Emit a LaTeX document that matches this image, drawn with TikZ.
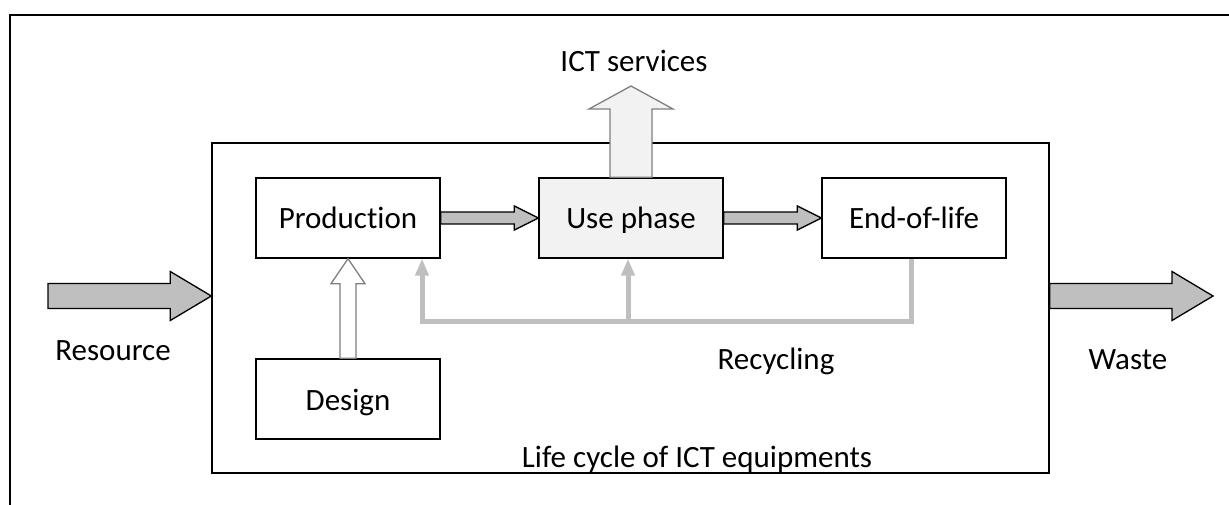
\documentclass[tikz,border=0pt]{standalone}
\usepackage{fontspec}
\setmainfont{Carlito}[Ligatures=NoCommon]
\usetikzlibrary{calc,arrows.meta}
\definecolor{arrowgray}{HTML}{BFBFBF}
\definecolor{lightfill}{HTML}{F2F2F2}
\definecolor{edgegray}{HTML}{7F7F7F}
\newcommand\hblock[6]{%
  \path[#1] let \p1=(#2), \p2=(#3) in
    (\x1,\y1+#4pt) -- (\x2-#6pt,\y1+#4pt) -- (\x2-#6pt,\y1+#5pt) -- (\x2,\y1)
    -- (\x2-#6pt,\y1-#5pt) -- (\x2-#6pt,\y1-#4pt) -- (\x1,\y1-#4pt) -- cycle;}
\newcommand\vblock[6]{%
  \path[#1] let \p1=(#2), \p2=(#3) in
    (\x1-#4pt,\y1) -- (\x1-#4pt,\y2-#6pt) -- (\x1-#5pt,\y2-#6pt) -- (\x1,\y2)
    -- (\x1+#5pt,\y2-#6pt) -- (\x1+#4pt,\y2-#6pt) -- (\x1+#4pt,\y1) -- cycle;}
\begin{document}
\begin{tikzpicture}[x=1pt,y=-1pt,
  every node/.style={font=\fontsize{31}{36}\selectfont},
  stagebox/.style={draw=black,line width=1.4pt,minimum width=184pt,minimum height=80pt,
    inner sep=0pt,text height=26pt,text depth=4pt},
  framebox/.style={draw=black,line width=1.4pt,minimum width=837pt,minimum height=330pt,inner sep=0pt},
  framelines/.style={draw=black,line width=1.4pt},
  darkarrow/.style={fill=arrowgray,draw=black,line width=1.3pt,line join=miter},
  servicearrow/.style={fill=lightfill,draw=edgegray,line width=1.3pt,line join=miter},
  designarrow/.style={fill=white,draw=edgegray,line width=1.3pt,line join=miter},
  recyc/.style={draw=arrowgray,line width=5pt,line join=miter,
    -{Triangle[width=13pt,length=17pt]}},
  label/.style={anchor=base,inner sep=0pt}]
\useasboundingbox (0,0) rectangle (1229,505);
\fill[white] (0,0) rectangle (1229,505);
% outer frame
\draw[framelines] (10,505) -- (10,15) -- (1229,15);
% life cycle box
\node[framebox] (lc) at (630.5,308) {};
% stages
\node[stagebox] (prod) at (348,218) {Production};
\node[stagebox,fill=lightfill] (use) at (631,218) {Use phase};
\node[stagebox] (eol) at (914,218) {End-of-life};
\node[stagebox] (design) at (348,399) {Design};
% coordinates for free ends
\coordinate (resin) at (48,296);
\coordinate (wout) at (1213,296);
\coordinate (ictt) at (631,86);
\coordinate (rl) at (422,321);
\coordinate (rb) at (911,321);
\coordinate (rm) at (628,321);
% block arrows
\hblock{darkarrow}{prod.east}{use.west}{6}{12}{24}
\hblock{darkarrow}{use.east}{eol.west}{6}{12}{24}
\hblock{darkarrow}{resin}{resin -| lc.west}{12.5}{24.5}{41}
\hblock{darkarrow}{lc.east |- wout}{wout}{12.5}{24.5}{41}
\vblock{servicearrow}{use.north}{ictt}{21}{42}{23}
\vblock{designarrow}{design.north}{prod.south}{8}{17}{25}
% recycling
\draw[recyc] (eol.south -| rb) |- (rl) -- (rl |- prod.south);
\draw[recyc] (rm) -- (rm |- use.south);
% labels
\node[label] (ictlabel) at (634,72) {ICT services};
\node[label] (reslabel) at (113,360) {Resource};
\node[label] (wastelabel) at (1128,369) {Waste};
\node[label] (reclabel) at (776,369) {Recycling};
\node[label] (lclabel) at (697,467) {Life cycle of ICT equipments};
\end{tikzpicture}
\end{document}
